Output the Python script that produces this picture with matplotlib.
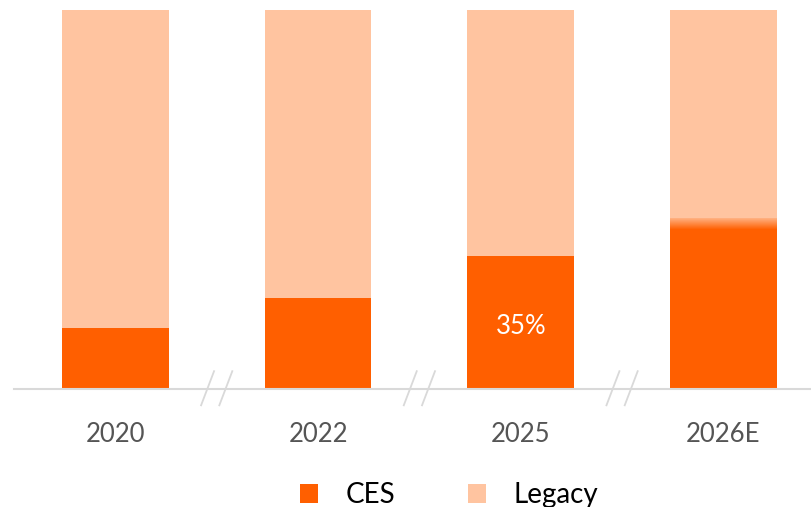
import numpy as np
import matplotlib.pyplot as plt
from matplotlib.colors import to_rgb

### DATA
years = ["2020", "2022", "2025", "2026E"]
ces_share = [16, 24, 35, 42]        # % of total
ces_estimate_top = 45               # 2026E estimate fades up to this
bar_labels = ["", "", "35%", ""]

ces_color = "#FF5F00"
legacy_color = "#FFC4A0"
plt.rcParams['font.family'] = ['Lato', 'DejaVu Sans']

fig = plt.figure(figsize=(8.12, 5.07), dpi=100)
ax = fig.add_axes([14 / 812, (507 - 389) / 507, 1 - 14 / 812, (389 - 10) / 507])

x = np.arange(len(years))
width = 0.527
legacy_share = [100 - v for v in ces_share]

ax.bar(x, ces_share, width, color=ces_color, label="CES", zorder=2)
ax.bar(x, legacy_share, width, bottom=ces_share, color=legacy_color, label="Legacy", zorder=2)

# fading band on the estimate bar
steps = 12
lo, hi = ces_share[-1], ces_estimate_top
c0, c1 = np.array(to_rgb(ces_color)), np.array(to_rgb(legacy_color))
for i in range(steps):
    t = i / steps
    ax.bar(x[-1], (hi - lo) / steps, width, bottom=lo + (hi - lo) * t,
           color=c0 * (1 - t * 0.85) + c1 * (t * 0.85), zorder=3, linewidth=0)

for xi, v, lab in zip(x, ces_share, bar_labels):
    if lab:
        ax.text(xi, v / 2 - 1, lab, ha="center", va="center", color="white",
                fontsize=18.5, zorder=4)

ax.set_xlim(-0.5, 3.437)
ax.set_ylim(0, 100)
for s in ["top", "right", "left"]:
    ax.spines[s].set_visible(False)
ax.spines["bottom"].set_color("#d9d9d9")
ax.spines["bottom"].set_linewidth(1.5)
ax.set_yticks([])
ax.set_xticks(x)
ax.set_xticklabels(years, fontsize=18.5, color="#555555")
ax.tick_params(axis="x", length=0, pad=24)

# axis break marks between the years
for xm in (x[:-1] + x[1:]) / 2:
    for dx in (-0.045, 0.045):
        ax.plot([xm + dx - 0.032, xm + dx + 0.032], [-4.3, 4.7], color="#d9d9d9",
                lw=1.3, clip_on=False, zorder=1)

leg = ax.legend(loc="upper center", bbox_to_anchor=(0.545, -0.18), ncol=2, frameon=False,
                fontsize=20, handlelength=0.65, handleheight=0.65, columnspacing=2.6,
                handletextpad=1.0)

fig.savefig("out.png", dpi=100)
